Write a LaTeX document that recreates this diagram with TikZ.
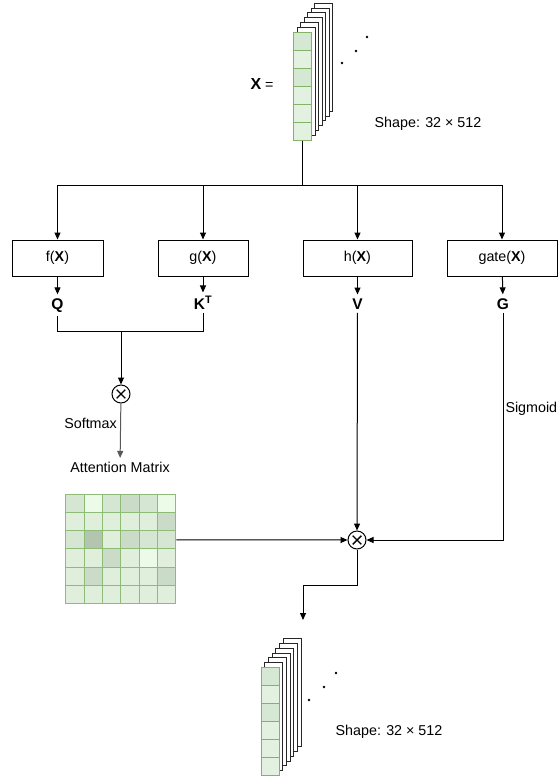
\documentclass[tikz,border=0pt]{standalone}
\usepackage{fontspec}
\setmainfont{Liberation Sans}
\usetikzlibrary{positioning,arrows.meta}

\definecolor{edgegreen}{HTML}{82B366}
\definecolor{cellA}{HTML}{D5E8D4}
\definecolor{cellB}{HTML}{E3F1E1}
\definecolor{shade0}{HTML}{EBFBE7}
\definecolor{shade1}{HTML}{E0EFDC}
\definecolor{shade2}{HTML}{D5E6D3}
\definecolor{shade3}{HTML}{CADBC8}
\definecolor{shade4}{HTML}{B3C5B1}

\begin{document}
\begin{tikzpicture}[x=1pt,y=-1pt,
font=\fontsize{14.3}{17}\selectfont,
>={Triangle[length=7pt,width=6pt]},
line width=1pt,
fn/.style={draw,minimum height=36pt,inner sep=0pt},
sym/.style={font=\fontsize{15.5}{18}\selectfont\bfseries,anchor=base},
mul/.style={circle,draw,minimum size=18pt,inner sep=0pt,
  path picture={\draw[line width=1.4pt]
    ([shift={(-4.3,-4.3)}]path picture bounding box.center) -- ([shift={(4.3,4.3)}]path picture bounding box.center)
    ([shift={(-4.3,4.3)}]path picture bounding box.center) -- ([shift={(4.3,-4.3)}]path picture bounding box.center);}},
sheet/.style={draw=black!85,fill=white,line width=0.8pt},
vcell/.style={draw=edgegreen,minimum size=18pt,inner sep=0pt},
mcell/.style={draw=edgegreen!90,minimum size=18.33pt,inner sep=0pt}]
\useasboundingbox (0,0) rectangle (560,780);

% input X
\foreach \k in {6,...,1}
  \draw[sheet] (293.5+3.5*\k,32-4.8*\k) rectangle ++(18,108);
\foreach \s [count=\i] in {A,B,A,B,B,B}
  \node[vcell,fill=cell\s] (xc-\i) at (302.5,23+18*\i) {};
\foreach \p in {(342,63),(356,51),(367,37)}
  \fill \p circle[radius=1.3pt];
\node (xlab) at (262,84) {{\fontsize{16}{18}\selectfont\bfseries X} =};
\node (shapein) at (428,124) {Shape: 32 × 512};

% four projections
\coordinate (split) at (302.5,185);
\node[fn,minimum width=91pt] (f) at (57.5,258) {f(\textbf{X})};
\node[fn,minimum width=90pt] (g) at (203,258) {g(\textbf{X})};
\node[fn,minimum width=109pt] (h) at (357.5,258) {h(\textbf{X})};
\node[fn,minimum width=110pt] (gate) at (502,258) {gate(\textbf{X})};
\draw (xc-6.south) -- (split);
\foreach \b in {f,g,h,gate}
  \draw[->] (split) -| (\b.north);

\node[sym] (q) at (57.5,309) {Q};
\node[sym] (kt) at (203,309) {K\textsuperscript{T}};
\node[sym] (v) at (357.5,309) {V};
\node[sym] (gl) at (503,309) {G};
\draw[->] (f) -- (q);
\draw[->] (g) -- (kt);
\draw[->] (h) -- (v);
\draw[->] (gate) -- (gl);

% attention
\coordinate (qk) at (121,331);
\node[mul] (mul1) at (121,394) {};
\node (attn) at (120,467) {Attention Matrix};
\draw (q) |- (qk);
\draw (kt) |- (qk);
\draw[->] (qk) -- (mul1);
\draw[->,black!65] (mul1) -- node[left,pos=0.37,black] {Softmax} (attn);

\foreach \row [count=\r] in {{2,0,2,3,2,0},{1,1,1,1,1,3},{2,4,1,3,2,2},{1,1,3,1,0,1},{1,3,1,1,1,3},{1,1,1,1,1,1}}
  \foreach \v [count=\c] in \row
    \node[mcell,fill=shade\v] (cell-\r-\c) at (66+18.33*\c-9.17,494+18.33*\r-9.17) {};

% gating
\node[mul] (mul2) at (357,540) {};
\draw[->] (cell-3-6) -- (mul2);
\draw[->] (v) -- (mul2);
\draw[->] (gl) |- node[right,pos=0.21,inner sep=2pt] {Sigmoid} (mul2);

% output
\coordinate (outin) at (303,620);
\draw[->] (mul2) -- ++(0,45) -| (outin);
\foreach \k in {6,...,1}
  \draw[sheet] (261+3.7*\k,667-4.7*\k) rectangle ++(18,108);
\foreach \s [count=\i] in {A,B,A,B,B,B}
  \node[vcell,fill=cell\s] (yc-\i) at (270,658+18*\i) {};
\foreach \p in {(309,700),(324,687),(336,673)}
  \fill \p circle[radius=1.3pt];
\node (shapeout) at (389,732) {Shape: 32 × 512};
\end{tikzpicture}
\end{document}
